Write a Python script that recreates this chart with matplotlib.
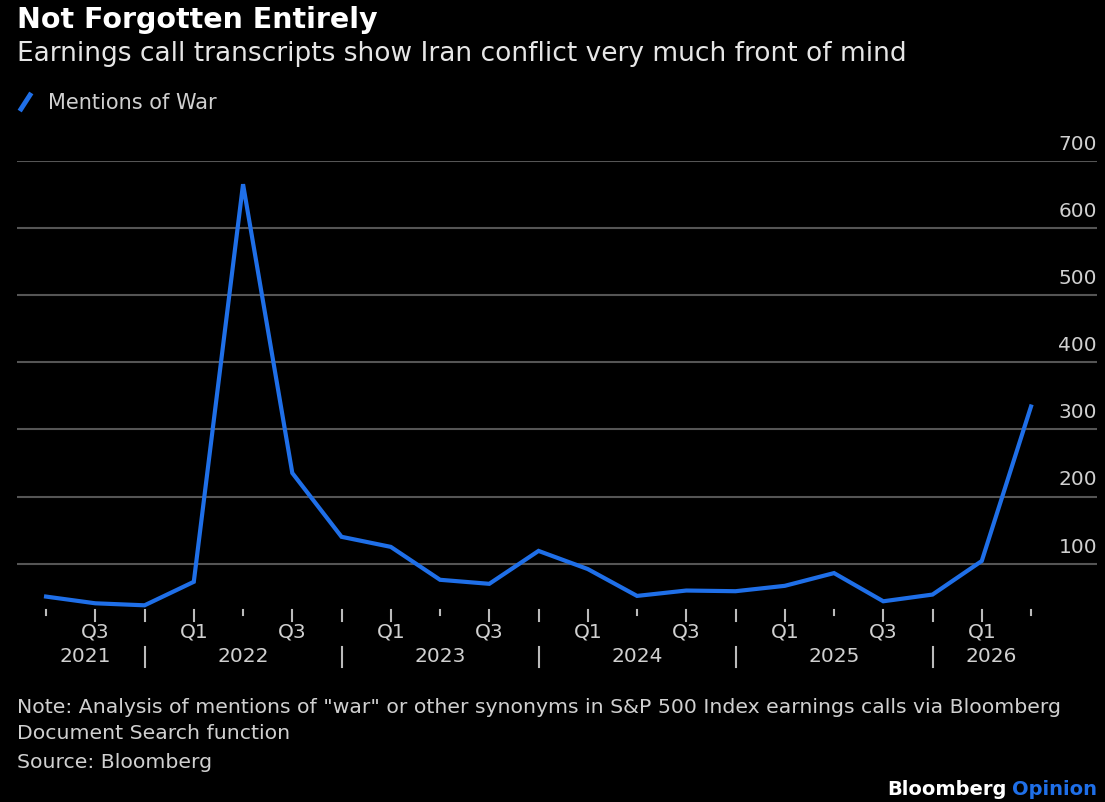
import numpy as np
import matplotlib.pyplot as plt
from matplotlib.lines import Line2D
import matplotlib.transforms as mtransforms

# quarterly data, Q2 2021 .. Q2 2026
quarters = ["Q2", "Q3", "Q4", "Q1", "Q2", "Q3", "Q4", "Q1", "Q2", "Q3", "Q4",
            "Q1", "Q2", "Q3", "Q4", "Q1", "Q2", "Q3", "Q4", "Q1", "Q2"]
mentions = [51, 41, 38, 73, 665, 235, 140, 125, 76, 70, 119,
            92, 52, 60, 59, 67, 86, 44, 54, 104, 334]
years = ["2021", "2022", "2023", "2024", "2025", "2026"]
year_pos = [0.8, 4, 8, 12, 16, 19.2]
separators = [2, 6, 10, 14, 18]
yticks = [100, 200, 300, 400, 500, 600, 700]

BG = "black"
BLUE = "#1f6fe8"
GRID = "#555555"
TXT = "#d0d0d0"

plt.rcParams["font.family"] = "DejaVu Sans"

fig = plt.figure(figsize=(11.05, 8.03), dpi=100, facecolor=BG)
ax = fig.add_axes([17 / 1105, 1 - 609 / 803, 1080 / 1105, (609 - 161.7) / 803])
ax.set_facecolor(BG)

x = np.arange(len(mentions))
ax.plot(x, mentions, color=BLUE, lw=3, solid_joinstyle="miter", zorder=3)

ax.set_xlim(-0.59, 21.34)
ax.set_ylim(34, 700)

for s in ax.spines.values():
    s.set_visible(False)

# horizontal gridlines with labels sitting above, right aligned
ax.set_yticks([])
ylab = mtransforms.blended_transform_factory(ax.transAxes, ax.transData)
for v in yticks:
    ax.axhline(v, color=GRID, lw=1.5, zorder=1)
    ax.text(1.0, v + 12, str(v), transform=ylab, ha="right", va="bottom",
            color=TXT, fontsize=14.5)

# quarter ticks
ax.set_xticks(x)
ax.set_xticklabels([])
ax.tick_params(axis="x", length=0)
trans = mtransforms.blended_transform_factory(ax.transData, ax.transAxes)
for i, q in enumerate(quarters):
    ln = 0.011 if q == "Q2" else 0.024
    ax.add_line(Line2D([i, i], [-0.004, -0.004 - ln], transform=trans, color="#bbbbbb",
                       lw=1.5, clip_on=False))
    if q in ("Q1", "Q3"):
        ax.text(i, -0.03, q, transform=trans, ha="center", va="top", color=TXT, fontsize=14.5)

for p, yr in zip(year_pos, years):
    ax.text(p, -0.085, yr, transform=trans, ha="center", va="top", color=TXT, fontsize=14.5)
for p in separators:
    ax.add_line(Line2D([p, p], [-0.088, -0.132], transform=trans, color="#bbbbbb",
                       lw=1.5, clip_on=False))

# titles
fig.text(17 / 1105, 1 - 20 / 803, "Not Forgotten Entirely", color="white", fontsize=20.5,
         fontweight="bold", va="center", ha="left")
fig.text(17 / 1105, 1 - 54 / 803, "Earnings call transcripts show Iran conflict very much front of mind",
         color="#e6e6e6", fontsize=19, va="center", ha="left")

# legend
fig.add_artist(Line2D([21 / 1105, 30 / 1105], [1 - 110 / 803, 1 - 96 / 803], color=BLUE, lw=3.5))
fig.text(48 / 1105, 1 - 103 / 803, "Mentions of War", color=TXT, fontsize=15, va="center", ha="left")

# footer
fig.text(17 / 1105, 1 - 708 / 803,
         'Note: Analysis of mentions of "war" or other synonyms in S&P 500 Index earnings calls via Bloomberg',
         color=TXT, fontsize=14.7, va="center", ha="left")
fig.text(17 / 1105, 1 - 734 / 803, "Document Search function", color=TXT, fontsize=14.7,
         va="center", ha="left")
fig.text(17 / 1105, 1 - 763 / 803, "Source: Bloomberg", color=TXT, fontsize=14.7,
         va="center", ha="left")
t1 = fig.text(1097 / 1105, 1 - 790 / 803, "Opinion", color=BLUE, fontsize=14,
              fontweight="bold", va="center", ha="right")
fig.canvas.draw()
bb = t1.get_window_extent()
fig.text((bb.x0 - 5) / 1105, 1 - 790 / 803, "Bloomberg", color="white", fontsize=14,
         fontweight="bold", va="center", ha="right")

fig.savefig("out.png", dpi=100, facecolor=BG)
